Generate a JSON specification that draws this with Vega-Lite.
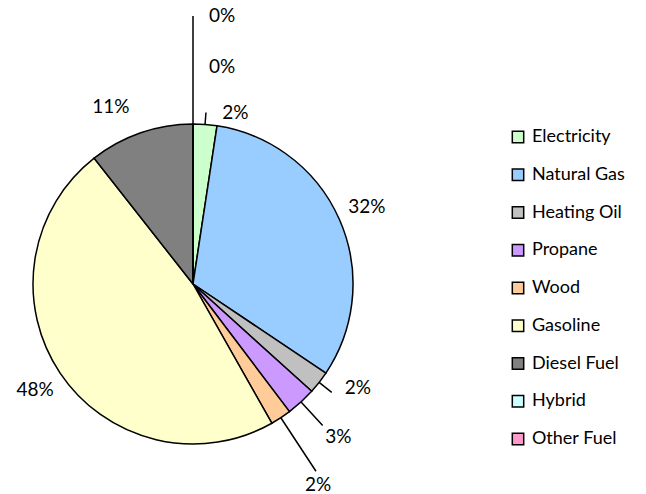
{
  "$schema": "https://vega.github.io/schema/vega-lite/v6.json",
  "autosize": {"type": "none"},
  "width": 320,
  "height": 320,
  "padding": {"left": 33, "top": 124, "right": 293, "bottom": 50},
  "background": "white",
  "config": {"view": {"stroke": null}, "font": "Lato"},
  "data": {
    "values": [
      {"Fuel": "Electricity", "Share": 2.4},
      {"Fuel": "Natural Gas", "Share": 32.0},
      {"Fuel": "Heating Oil", "Share": 2.3},
      {"Fuel": "Propane", "Share": 3.0},
      {"Fuel": "Wood", "Share": 2.1},
      {"Fuel": "Gasoline", "Share": 47.6},
      {"Fuel": "Diesel Fuel", "Share": 10.6},
      {"Fuel": "Hybrid", "Share": 0},
      {"Fuel": "Other Fuel", "Share": 0}
    ]
  },
  "transform": [
    {"calculate": "indexof(['Electricity','Natural Gas','Heating Oil','Propane','Wood','Gasoline','Diesel Fuel','Hybrid','Other Fuel'], datum.Fuel)", "as": "idx"},
    {"stack": "Share", "groupby": [], "sort": [{"field": "idx", "order": "ascending"}], "as": ["s0", "s1"]},
    {"calculate": "(datum.s0 + datum.s1) / 2", "as": "mid"},
    {"calculate": "format(datum.Share, '.0f') + '%'", "as": "lbl"}
  ],
  "encoding": {
    "theta": {"field": "mid", "type": "quantitative", "scale": {"domain": [0, 100]}}
  },
  "layer": [
    {
      "mark": {"type": "arc", "radius": 160, "stroke": "black", "strokeWidth": 1.5},
      "encoding": {
        "theta": {"field": "s0", "type": "quantitative", "scale": {"domain": [0, 100]}},
        "theta2": {"field": "s1"},
        "color": {
          "field": "Fuel", "type": "nominal",
          "scale": {
            "domain": ["Electricity","Natural Gas","Heating Oil","Propane","Wood","Gasoline","Diesel Fuel","Hybrid","Other Fuel"],
            "range": ["#CCFFCC","#99CCFF","#C0C0C0","#CC99FF","#FFCC99","#FFFFCC","#808080","#CCFFFF","#FF99CC"]
          },
          "legend": {
            "title": null, "orient": "none", "legendX": 476, "legendY": 4,
            "symbolType": "square", "symbolSize": 130, "symbolStrokeColor": "black", "symbolStrokeWidth": 1.5,
            "labelFontSize": 18, "labelFont": "Lato", "labelColor": "black", "labelOffset": 5,
            "rowPadding": 19.75, "padding": 0
          }
        }
      }
    },
    {
      "transform": [{"filter": "datum.Fuel == 'Natural Gas' || datum.Fuel == 'Gasoline'"}],
      "mark": {"type": "text", "radius": 190, "fontSize": 19, "color": "black"},
      "encoding": {"text": {"field": "lbl"}}
    },
    {
      "transform": [{"filter": "datum.Fuel == 'Diesel Fuel'"}],
      "mark": {"type": "text", "radius": 190, "dx": -20, "dy": 3, "fontSize": 19, "color": "black"},
      "encoding": {"text": {"field": "lbl"}}
    },
    {
      "transform": [{"filter": "datum.Fuel == 'Electricity'"}],
      "mark": {"type": "text", "radius": 176, "dx": 29, "dy": 4, "fontSize": 19, "color": "black"},
      "encoding": {"text": {"field": "lbl"}}
    },
    {
      "transform": [{"filter": "datum.Fuel == 'Electricity'"}],
      "mark": {"type": "arc", "radius": 172, "radius2": 160, "stroke": "black", "strokeWidth": 1.5, "fill": null},
      "encoding": {"theta2": {"field": "mid"}}
    },
    {
      "transform": [{"filter": "datum.Fuel == 'Heating Oil'"}],
      "mark": {"type": "text", "radius": 185, "dx": 19, "dy": -10, "fontSize": 19, "color": "black"},
      "encoding": {"text": {"field": "lbl"}}
    },
    {
      "transform": [{"filter": "datum.Fuel == 'Heating Oil'"}],
      "mark": {"type": "arc", "radius": 176, "radius2": 160, "stroke": "black", "strokeWidth": 1.5, "fill": null},
      "encoding": {"theta2": {"field": "mid"}}
    },
    {
      "transform": [{"filter": "datum.Fuel == 'Propane'"}],
      "mark": {"type": "text", "radius": 205, "dx": 7, "dy": 2, "fontSize": 19, "color": "black"},
      "encoding": {"text": {"field": "lbl"}}
    },
    {
      "transform": [{"filter": "datum.Fuel == 'Propane'"}],
      "mark": {"type": "arc", "radius": 192, "radius2": 160, "stroke": "black", "strokeWidth": 1.5, "fill": null},
      "encoding": {"theta2": {"field": "mid"}}
    },
    {
      "transform": [{"filter": "datum.Fuel == 'Wood'"}],
      "mark": {"type": "text", "radius": 235, "dx": -4, "dy": 5, "fontSize": 19, "color": "black"},
      "encoding": {"text": {"field": "lbl"}}
    },
    {
      "transform": [{"filter": "datum.Fuel == 'Wood'"}],
      "mark": {"type": "arc", "radius": 224, "radius2": 160, "stroke": "black", "strokeWidth": 1.5, "fill": null},
      "encoding": {"theta2": {"field": "mid"}}
    },
    {
      "transform": [{"filter": "datum.Fuel == 'Hybrid'"}],
      "mark": {"type": "text", "radius": 217, "dx": 29, "fontSize": 19, "color": "black"},
      "encoding": {"text": {"field": "lbl"}}
    },
    {
      "transform": [{"filter": "datum.Fuel == 'Other Fuel'"}],
      "mark": {"type": "text", "radius": 268, "dx": 29, "fontSize": 19, "color": "black"},
      "encoding": {"text": {"field": "lbl"}}
    },
    {
      "transform": [{"filter": "datum.Fuel == 'Other Fuel'"}],
      "mark": {"type": "arc", "radius": 268, "radius2": 160, "stroke": "black", "strokeWidth": 1.5, "fill": null},
      "encoding": {"theta2": {"field": "mid"}}
    }
  ]
}
